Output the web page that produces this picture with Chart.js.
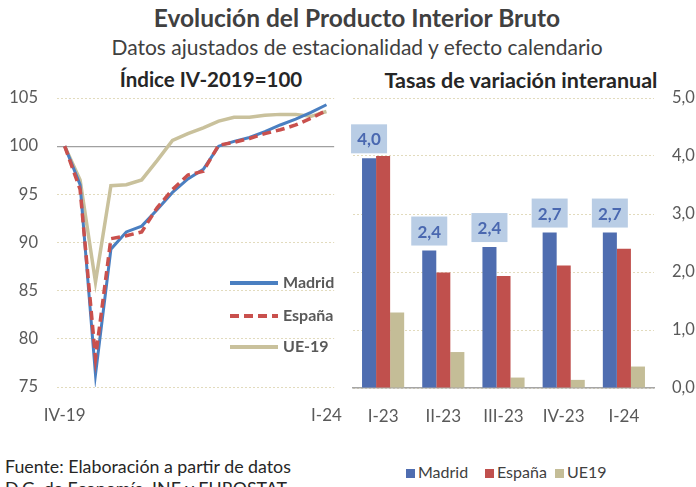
<!DOCTYPE html>
<html><head><meta charset="utf-8">
<script src="https://cdn.jsdelivr.net/npm/chart.js@4"></script>
<style>
body{margin:0;width:696px;height:487px;overflow:hidden;background:#fff;font-family:Lato,sans-serif;color:#404040;position:relative}
.t{position:absolute;white-space:nowrap}
.box{position:absolute}
.lg{position:absolute;top:462px;font-size:16px;color:#404040;white-space:nowrap}
.sq{display:inline-block;width:9px;height:9px;margin-right:3px;vertical-align:0px}
</style></head><body>
<div class="t" style="left:0;width:714px;text-align:center;top:3px;font-weight:bold;font-size:24.5px">Evolución del Producto Interior Bruto</div>
<div class="t" style="left:0;width:714px;text-align:center;top:34px;font-size:21px">Datos ajustados de estacionalidad y efecto calendario</div>
<div class="t" style="left:0;width:422px;text-align:center;top:67px;font-weight:bold;font-size:20.5px;color:#262626">Índice IV-2019=100</div>
<div class="t" style="left:0;width:1042px;text-align:center;top:67px;font-weight:bold;font-size:21.5px;color:#262626">Tasas de variación interanual</div>
<div class="box" style="left:0;top:85px;width:352px;height:345px"><canvas id="c1"></canvas></div>
<div class="box" style="left:350px;top:85px;width:346px;height:345px"><canvas id="c2"></canvas></div>
<div class="t" style="left:5px;top:455px;font-size:17.8px;line-height:22px;color:#262626">Fuente: Elaboración a partir de datos<br>D.G. de Economía, INE y EUROSTAT</div>
<div class="lg" style="left:406px"><span class="sq" style="background:#4f6db0"></span>Madrid</div>
<div class="lg" style="left:485px"><span class="sq" style="background:#c0504d"></span>España</div>
<div class="lg" style="left:555px"><span class="sq" style="background:#c4bd97"></span>UE19</div>
<script>
// ---- Data: index IV-2019 = 100 ----
const quarters = ['IV-19','I-20','II-20','III-20','IV-20','I-21','II-21','III-21','IV-21','I-22','II-22','III-22','IV-22','I-23','II-23','III-23','IV-23','I-24'];
const madridIdx = [100, 96.0, 76.3, 89.3, 91.1, 91.7, 93.4, 95.2, 96.6, 97.6, 100.0, 100.5, 100.9, 101.5, 102.2, 102.8, 103.5, 104.3];
const espanaIdx = [100, 95.5, 78.0, 90.4, 90.7, 91.1, 93.6, 95.5, 97.0, 97.4, 100.1, 100.4, 100.8, 101.3, 101.7, 102.2, 102.9, 103.7];
const ue19Idx   = [100, 96.5, 85.9, 95.9, 96.0, 96.5, 98.5, 100.6, 101.3, 101.9, 102.6, 103.0, 103.0, 103.2, 103.3, 103.3, 103.1, 103.6];
const idxTicks = [75, 80, 85, 90, 95, 100, 105];

// ---- Data: year-on-year rates ----
const rateCats = ['I-23','II-23','III-23','IV-23','I-24'];
const madridRate = [3.96, 2.37, 2.43, 2.68, 2.68];
const espanaRate = [4.0, 1.99, 1.93, 2.11, 2.40];
const ue19Rate   = [1.30, 0.62, 0.18, 0.14, 0.37];
const rateTicks = [0, 1, 2, 3, 4, 5];

const GRID = '#e2dbbd', TXT = '#595959', CLEAR = 'rgba(0,0,0,0)';
Chart.defaults.font.family = 'Lato, sans-serif';

const innerLegend = {
  id:'innerLegend',
  afterDraw(chart){
    const ctx = chart.ctx;
    const ys = [198, 231, 262];
    chart.data.datasets.forEach((ds,i)=>{
      ctx.save();
      ctx.strokeStyle = ds.borderColor;
      ctx.lineWidth = 4;
      ctx.setLineDash(ds.borderDash || []);
      ctx.beginPath(); ctx.moveTo(230, ys[i]); ctx.lineTo(278, ys[i]); ctx.stroke();
      ctx.setLineDash([]);
      ctx.fillStyle = TXT;
      ctx.font = 'bold 16px Lato, sans-serif';
      ctx.textBaseline = 'middle';
      ctx.fillText(ds.label, 283, ys[i]);
      ctx.restore();
    });
  }
};

new Chart(document.getElementById('c1'), {
  type:'line',
  data:{labels:quarters, datasets:[
    {label:'Madrid', data:madridIdx, borderColor:'#4a7fc1', borderWidth:3, pointRadius:0, order:1},
    {label:'España', data:espanaIdx, borderColor:'#c9504d', borderWidth:3.5, borderDash:[9,5], pointRadius:0, order:0},
    {label:'UE-19', data:ue19Idx, borderColor:'#c9c19c', borderWidth:3.5, pointRadius:0, order:2}
  ]},
  options:{
    responsive:true, maintainAspectRatio:false, animation:false,
    layout:{padding:{top:13,right:5,left:0,bottom:0}},
    plugins:{legend:{display:false}, tooltip:{enabled:false}},
    scales:{
      x:{offset:true, grid:{display:false}, border:{display:false},
         ticks:{autoSkip:false, maxRotation:0, padding:10, color:TXT, font:{size:17},
           callback:(v,i)=> (i===0||i===quarters.length-1) ? quarters[i] : ''},
         afterFit:s=>{s.height=43;}},
      y:{min:75, max:105, afterBuildTicks:s=>{s.ticks = idxTicks.map(v=>({value:v}));},
         ticks:{padding:0, color:TXT, font:{size:16.5}},
         grid:{drawTicks:true, tickLength:19, tickColor:CLEAR,
               color:c=> c.tick && c.tick.value===100 ? '#a0a0a0' : GRID,
               lineWidth:c=> c.tick && c.tick.value===100 ? 1.3 : 1},
         border:{display:false, dash:c=> c.tick && c.tick.value===100 ? [] : [2,2]},
         afterFit:s=>{s.width=57;}}
    }
  },
  plugins:[innerLegend]
});

const barLabels = {
  id:'barLabels',
  afterDatasetsDraw(chart){
    const ctx = chart.ctx;
    const meta = chart.getDatasetMeta(0);
    meta.data.forEach((el,i)=>{
      const w=36, h=29, x=el.x - w/2, y=el.y - 5 - h;
      ctx.save();
      ctx.fillStyle = '#b9cde5';
      ctx.fillRect(x, y, w, h);
      ctx.fillStyle = '#4a68b0';
      ctx.font = 'bold 17px Lato, sans-serif';
      ctx.textAlign = 'center'; ctx.textBaseline = 'middle';
      ctx.fillText(madridRate[i].toFixed(1).replace('.',','), el.x, y + h/2 + 1);
      ctx.restore();
    });
  }
};

new Chart(document.getElementById('c2'), {
  type:'bar',
  data:{labels:rateCats, datasets:[
    {label:'Madrid', data:madridRate, backgroundColor:'#4f6db0'},
    {label:'España', data:espanaRate, backgroundColor:'#c0504d'},
    {label:'UE19', data:ue19Rate, backgroundColor:'#c4bd97'}
  ]},
  options:{
    responsive:true, maintainAspectRatio:false, animation:false,
    layout:{padding:{top:13,right:0,left:3,bottom:0}},
    datasets:{bar:{categoryPercentage:0.7, barPercentage:1.0}},
    plugins:{legend:{display:false}, tooltip:{enabled:false}},
    scales:{
      x:{grid:{display:false}, border:{display:true, color:'#a6a6a6', width:1.5},
         ticks:{padding:10, color:TXT, font:{size:17}},
         afterFit:s=>{s.height=42;}},
      y:{position:'right', min:0, max:5, afterBuildTicks:s=>{s.ticks = rateTicks.map(v=>({value:v}));},
         ticks:{padding:0, color:TXT, font:{size:16.5}, callback:v=> v.toFixed(1).replace('.',',')},
         grid:{drawTicks:true, tickLength:18, tickColor:CLEAR, color:GRID}, border:{display:false, dash:[2,2]},
         afterFit:s=>{s.width=42;}}
    }
  },
  plugins:[barLabels]
});
</script>
</body></html>
